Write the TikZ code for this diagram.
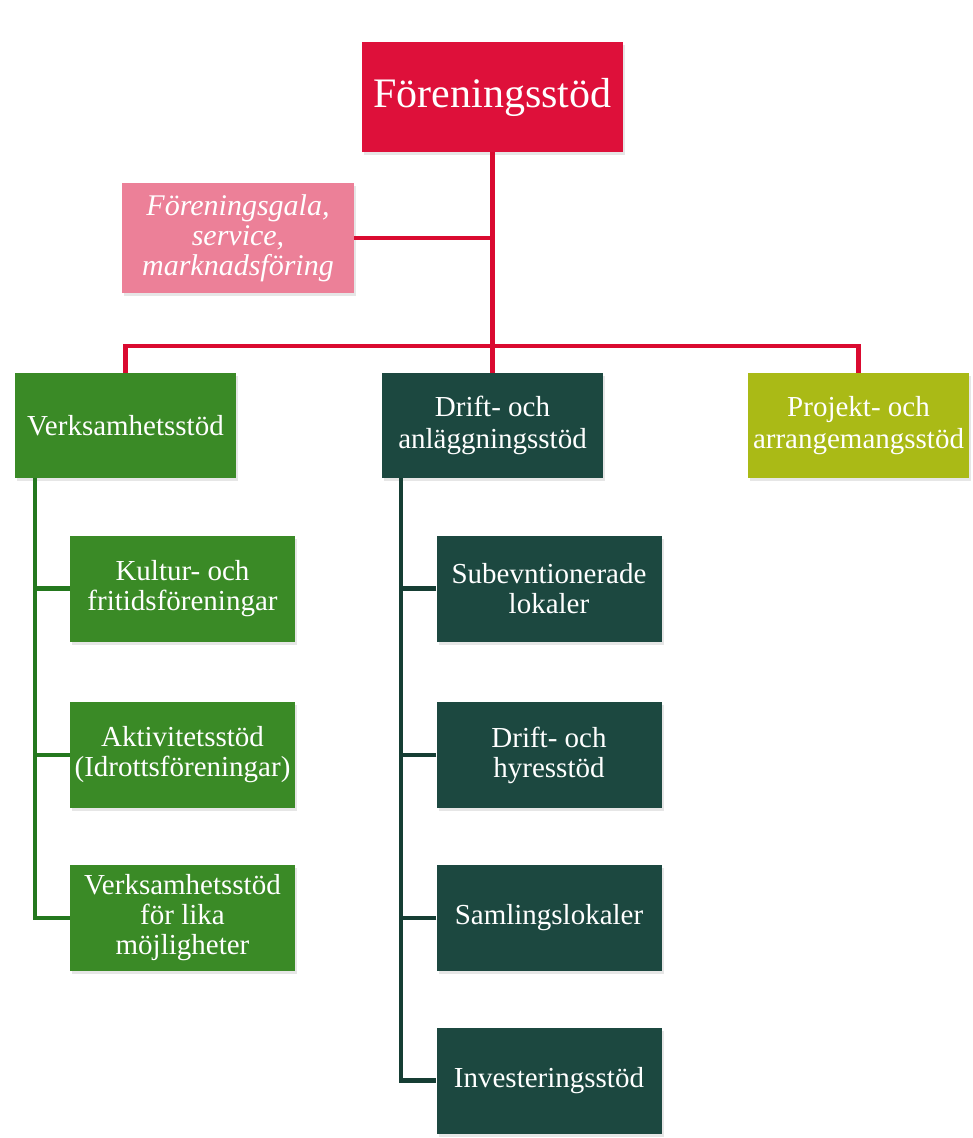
\documentclass[tikz,border=0pt]{standalone}
\usepackage{fontspec}
\setmainfont{Liberation Serif}
\usetikzlibrary{shadows}

\definecolor{rootred}{RGB}{222,16,58}
\definecolor{linered}{RGB}{218,10,48}
\definecolor{sidepink}{RGB}{236,128,152}
\definecolor{verkgreen}{RGB}{58,138,38}
\definecolor{linegreen}{RGB}{36,120,30}
\definecolor{driftteal}{RGB}{28,72,64}
\definecolor{lineteal}{RGB}{22,62,52}
\definecolor{projolive}{RGB}{170,186,22}

\tikzset{
    box/.style={draw=none, text=white, align=center, inner sep=2pt,
        drop shadow={opacity=.2, shadow xshift=2pt, shadow yshift=-3pt}},
    rootbox/.style={box, fill=rootred, minimum width=261pt, minimum height=110pt,
        font=\fontsize{42}{46}\selectfont},
    sidebox/.style={box, fill=sidepink, minimum width=232pt, minimum height=110pt,
        font=\fontsize{30}{30}\selectfont\itshape},
    mainbox/.style={box, minimum width=221pt, minimum height=105pt,
        font=\fontsize{29}{32}\selectfont},
    subbox/.style={box, minimum width=225pt, minimum height=106pt,
        font=\fontsize{29}{30}\selectfont},
    redline/.style={draw=linered, line width=4.5pt},
    greenline/.style={draw=linegreen, line width=4.5pt},
    tealline/.style={draw=lineteal, line width=4.5pt}
}

\begin{document}
\begin{tikzpicture}[x=1pt, y=-1pt]

    \useasboundingbox (0,0) rectangle (973,1138);

    \node[rootbox] (root) at(492.5, 97){F\"oreningsst\"od};
    \node[sidebox] (side) at(238, 238){F\"oreningsgala,\\service,\\marknadsf\"oring};

    \node[mainbox, fill=verkgreen] (verk) at(125.5, 425.5){Verksamhetsst\"od};
    \node[mainbox, fill=driftteal] (drift) at(492.5, 425.5){Drift- och\\anl\"aggningsst\"od};
    \node[mainbox, fill=projolive] (proj) at(858.5, 425.5){Projekt- och\\arrangemangsst\"od};

    \node[subbox, fill=verkgreen] (kultur) at(182.5, 588.5){Kultur- och\\fritidsf\"oreningar};
    \node[subbox, fill=verkgreen] (aktiv) at(182.5, 755){Aktivitetsst\"od\\(Idrottsf\"oreningar)};
    \node[subbox, fill=verkgreen] (lika) at(182.5, 918){Verksamhetsst\"od\\f\"or lika\\m\"ojligheter};

    \node[subbox, fill=driftteal] (subv) at(549, 588.5){Subevntionerade\\lokaler};
    \node[subbox, fill=driftteal] (hyres) at(549, 755){Drift- och\\hyresst\"od};
    \node[subbox, fill=driftteal] (samling) at(549, 918){Samlingslokaler};
    \node[subbox, fill=driftteal] (invest) at(549, 1080.5){Investeringsst\"od};

    \coordinate (bar) at(491, 346);
    \coordinate (vspine) at([xshift=20pt]verk.south west);
    \coordinate (dspine) at([xshift=19pt]drift.south west);

    \draw[redline](root.south) -- (drift.north);
    \draw[redline](side.east) -- (side.east -| root.south);
    \draw[redline](verk.north) |- (bar) -| (proj.north);

    \draw[greenline](vspine) |- (lika.west);
        \draw[greenline](kultur.west) -- (kultur.west -| vspine);
        \draw[greenline](aktiv.west) -- (aktiv.west -| vspine);

    \draw[tealline](dspine) |- (invest.west);
        \draw[tealline](subv.west) -- (subv.west -| dspine);
        \draw[tealline](hyres.west) -- (hyres.west -| dspine);
        \draw[tealline](samling.west) -- (samling.west -| dspine);

\end{tikzpicture}
\end{document}
